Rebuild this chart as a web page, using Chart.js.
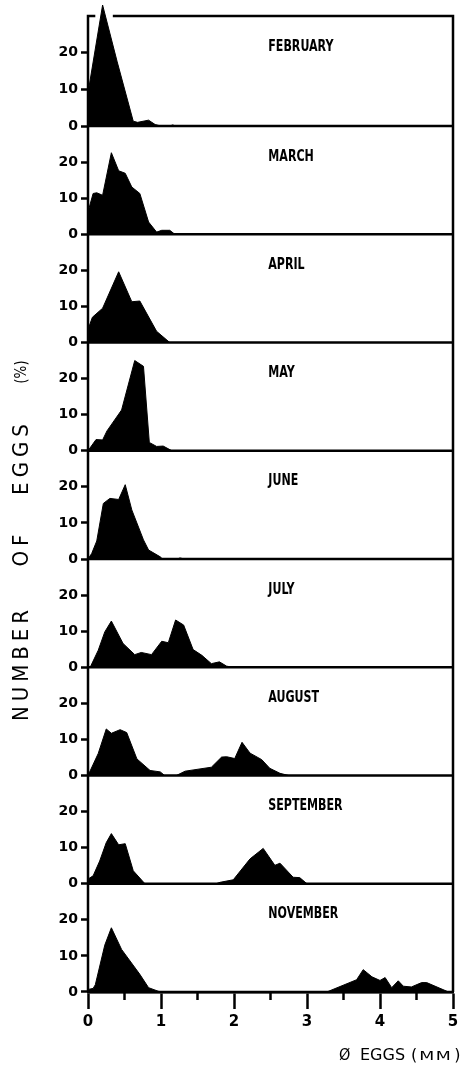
<!DOCTYPE html>
<html>
<head>
<meta charset="utf-8">
<script src="https://cdn.jsdelivr.net/npm/chart.js@4/dist/chart.umd.min.js"></script>
<style>
  html, body { margin: 0; padding: 0; background: #fff; }
</style>
</head>
<body>
<canvas id="eggs" width="465" height="1068"></canvas>
<script>
"use strict";

const months = ['FEBRUARY', 'MARCH', 'APRIL', 'MAY', 'JUNE', 'JULY', 'AUGUST', 'SEPTEMBER', 'NOVEMBER'];

// [egg diameter (mm), number of eggs (%)]
const february = [[0, 9], [0.2, 33], [0.4, 17.5], [0.62, 1.3], [0.68, 1], [0.83, 1.6], [0.92, 0.4], [1.0, 0], [1.12, 0], [1.16, 0.3], [1.2, 0], [5, 0]];
const march = [[0, 6.2], [0.07, 11.3], [0.12, 11.5], [0.2, 10.8], [0.32, 22.6], [0.42, 17.6], [0.51, 16.9], [0.6, 13.1], [0.71, 11.3], [0.83, 3.4], [0.94, 0.6], [1.01, 1.1], [1.12, 1.1], [1.19, 0], [5, 0]];
const april = [[0, 3.6], [0.06, 7], [0.2, 9.5], [0.42, 19.6], [0.6, 11.3], [0.71, 11.5], [0.94, 3.1], [1.12, 0], [5, 0]];
const may = [[0, 0], [0.11, 3.1], [0.2, 3], [0.26, 5.5], [0.46, 11.3], [0.64, 25], [0.76, 23.4], [0.84, 2.3], [0.94, 1.2], [1.03, 1.3], [1.15, 0], [5, 0]];
const june = [[0, 0], [0.05, 1.5], [0.12, 5], [0.21, 15.4], [0.3, 16.8], [0.42, 16.5], [0.51, 20.6], [0.6, 13.6], [0.76, 5.3], [0.83, 2.5], [0.99, 0.6], [1.02, 0], [1.22, 0], [1.26, 0.3], [1.32, 0], [5, 0]];
const july = [[0, 0], [0.03, 0], [0.14, 4.7], [0.23, 9.8], [0.32, 12.8], [0.48, 6.6], [0.64, 3.5], [0.73, 4.1], [0.87, 3.5], [1.01, 7.2], [1.1, 6.8], [1.2, 13.1], [1.31, 11.7], [1.44, 4.9], [1.56, 3.3], [1.69, 1], [1.8, 1.5], [1.9, 0.3], [1.99, 0], [5, 0]];
const august = [[0, 0], [0.14, 6.1], [0.25, 12.9], [0.32, 11.7], [0.44, 12.7], [0.53, 11.9], [0.67, 4.6], [0.85, 1.4], [0.99, 1], [1.05, 0], [1.21, 0], [1.33, 1.2], [1.69, 2.3], [1.83, 5.1], [1.9, 5.2], [2.01, 4.7], [2.11, 9.2], [2.22, 6.2], [2.38, 4.4], [2.49, 2], [2.63, 0.6], [2.75, 0], [5, 0]];
const september = [[0, 1.3], [0.07, 2.2], [0.16, 6.3], [0.25, 11.4], [0.32, 13.9], [0.42, 10.8], [0.51, 11.1], [0.62, 3.6], [0.78, 0], [1.75, 0], [1.81, 0.4], [1.99, 1.1], [2.22, 6.9], [2.4, 9.8], [2.56, 5.1], [2.63, 5.7], [2.81, 1.8], [2.9, 1.7], [3.0, 0], [5, 0]];
const november = [[0, 0.7], [0.07, 1], [0.1, 2], [0.23, 13], [0.32, 17.8], [0.46, 11.8], [0.71, 4.9], [0.83, 1.2], [0.99, 0], [3.27, 0], [3.68, 3.4], [3.77, 6.2], [3.89, 4.2], [4.0, 3.2], [4.07, 4], [4.16, 1.2], [4.25, 3.1], [4.32, 1.6], [4.43, 1.4], [4.57, 2.6], [4.64, 2.6], [4.94, 0], [5, 0]];

const series = [february, march, april, may, june, july, august, september, november];
const yTicks = [0, 10, 20];
const panelMax = 30;

const numFont = { family: '"DejaVu Sans", sans-serif', weight: 'bold', size: 14 };
const monthFont = 'bold 15px "DejaVu Sans Condensed", "DejaVu Sans", sans-serif';
const titleFont = '22px "DejaVu Sans Condensed", "DejaVu Sans", sans-serif';

// one y axis per month, stacked on the left; the top panel is a bit taller
// so the February peak can rise above its frame
const scales = {
    x: {
        type: 'linear', min: 0, max: 5,
        ticks: {
            stepSize: 0.5, autoSkip: false, maxRotation: 0, padding: 4, color: '#000',
            font: { ...numFont, size: 15 },
            callback: v => Number.isInteger(v) ? String(v) : ''
        },
        grid: {
            drawOnChartArea: false, tickLength: 17, tickWidth: 2.5,
            tickColor: c => Number.isInteger(c.tick.value) ? '#000' : 'rgba(0,0,0,0)'
        },
        border: { display: true, color: '#000', width: 2.5 },
        afterFit: s => { s.height = 76; }
    }
};
series.forEach((d, i) => {
    scales['y' + i] = {
        type: 'linear', position: 'left', stack: 'months',
        weight: series.length - i,
        stackWeight: i === 0 ? 1.118 : 1,
        min: 0, max: i === 0 ? 33 : panelMax,
        afterBuildTicks: s => { s.ticks = yTicks.map(v => ({ value: v })); },
        ticks: { color: '#000', font: numFont, padding: 3 },
        grid: { drawOnChartArea: false, tickLength: 7, tickWidth: 2.5, tickColor: '#000' },
        border: { display: false },
        afterFit: s => {
            s.width = 88;
            s.paddingTop = 0;      // labels never sit at the very top
            s.paddingBottom = 0;
        }
    };
});

// frame, panel separators, half-mm ticks, month names and axis titles
const panelDecor = {
    id: 'panelDecor',
    afterDatasetsDraw(chart) {
        const ctx = chart.ctx;
        const xs = chart.scales.x;
        const area = chart.chartArea;
        const top = chart.scales.y0.getPixelForValue(panelMax);
        ctx.save();
        ctx.strokeStyle = '#000';
        ctx.lineWidth = 2.5;
        ctx.lineCap = 'butt';

        ctx.beginPath();
        ctx.moveTo(area.left, area.bottom);
        ctx.lineTo(area.left, top);
        ctx.lineTo(xs.getPixelForValue(0.1), top);
        ctx.moveTo(xs.getPixelForValue(0.34), top);
        ctx.lineTo(area.right, top);
        ctx.lineTo(area.right, area.bottom);
        ctx.stroke();

        series.forEach((d, i) => {
            const y0 = chart.scales['y' + i].getPixelForValue(0);
            ctx.beginPath();
            ctx.moveTo(area.left, y0);
            ctx.lineTo(area.right, y0);
            ctx.stroke();
        });

        // short ticks at the half millimetres
        for (let v = 0.5; v < 5; v += 1) {
            const px = xs.getPixelForValue(v);
            ctx.beginPath();
            ctx.moveTo(px, area.bottom);
            ctx.lineTo(px, area.bottom + 8);
            ctx.stroke();
        }

        // month names, squeezed horizontally
        ctx.fillStyle = '#000';
        ctx.font = monthFont;
        ctx.textAlign = 'left';
        ctx.textBaseline = 'middle';
        months.forEach((m, i) => {
            ctx.save();
            ctx.translate(xs.getPixelForValue(2.47), chart.scales['y' + i].getPixelForValue(21.5));
            ctx.scale(0.82, 1);
            ctx.fillText(m, 0, 0);
            ctx.restore();
        });

        // vertical title, word by word
        ctx.save();
        ctx.translate(22, 0);
        ctx.rotate(-Math.PI / 2);
        ctx.textAlign = 'center';
        ctx.font = titleFont;
        ctx.letterSpacing = '5px';
        [['NUMBER', 663], ['OF', 548], ['EGGS', 457]].forEach(([w, y]) => ctx.fillText(w, -y, 0));
        ctx.letterSpacing = '0px';
        ctx.font = '15px "DejaVu Sans Condensed", "DejaVu Sans", sans-serif';
        ctx.fillText('(%)', -372, 0);
        ctx.restore();

        // x axis title with a wide small-caps unit
        ctx.textBaseline = 'alphabetic';
        ctx.textAlign = 'left';
        const base = 1060;
        const big = '16px "DejaVu Sans", sans-serif';
        let x = 339;
        ctx.font = '16px "DejaVu Sans Condensed", "DejaVu Sans", sans-serif';
        ctx.fillText('Ø', x, base);
        x = 360;
        ctx.font = big;
        ctx.fillText('EGGS', x, base);
        x += ctx.measureText('EGGS').width + 6;
        ctx.fillText('(', x, base);
        x += ctx.measureText('(').width + 2;
        ctx.save();
        ctx.translate(x, base);
        ctx.scale(1.45, 1);
        ctx.font = '12px "DejaVu Sans", sans-serif';
        ctx.letterSpacing = '1px';
        ctx.fillText('MM', 0, 0);
        const mmWidth = ctx.measureText('MM').width * 1.45;
        ctx.restore();
        x += mmWidth + 2;
        ctx.font = big;
        ctx.fillText(')', x, base);
        ctx.restore();
    }
};

new Chart(document.getElementById('eggs'), {
    type: 'line',
    data: {
        datasets: series.map((d, i) => ({
            label: months[i],
            data: d,
            yAxisID: 'y' + i,
            fill: 'origin',
            backgroundColor: '#000',
            borderColor: '#000',
            borderWidth: 1,
            pointRadius: 0,
            tension: 0
        }))
    },
    options: {
        responsive: false,
        animation: false,
        devicePixelRatio: 1,
        layout: { padding: { top: 5, right: 12, left: 0, bottom: 0 } },
        plugins: { legend: { display: false }, tooltip: { enabled: false } },
        scales: scales
    },
    plugins: [panelDecor]
});
</script>
</body>
</html>
